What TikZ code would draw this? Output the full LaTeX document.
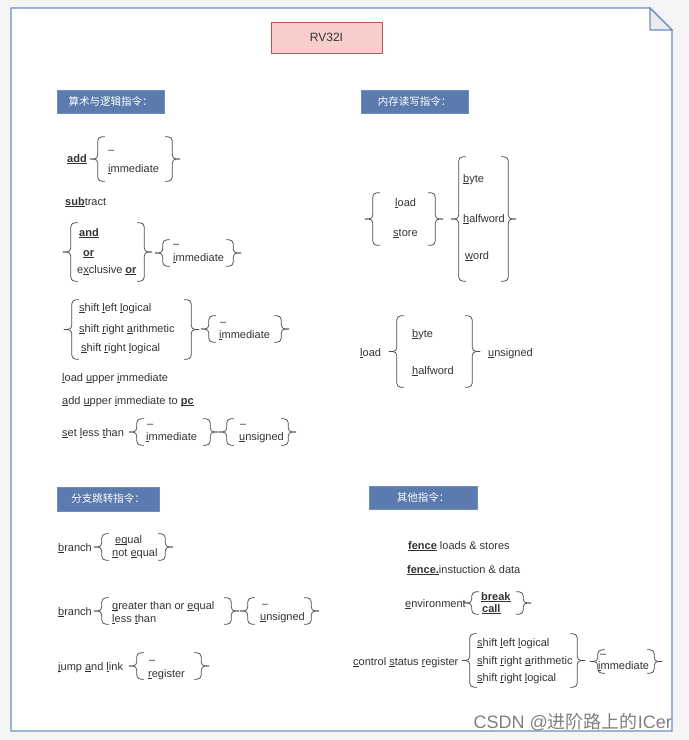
\documentclass[tikz,border=0pt]{standalone}
\usepackage{fontspec}
\setmainfont{Liberation Sans}
\newfontfamily\cjk{Noto Sans CJK SC}
\usetikzlibrary{fit}

\definecolor{framec}{HTML}{6C8EBF}
\definecolor{hdrfill}{HTML}{5B7BAE}
\definecolor{titlefill}{HTML}{F8CECC}
\definecolor{titledraw}{HTML}{B85450}
\definecolor{ink}{HTML}{333333}
\definecolor{paper}{HTML}{F5F5F5}

% underlined mnemonic letters
\newcommand{\mnem}[1]{\underline{\smash{#1}}}

% braces drawn on the sides of a group node
\newcommand{\openbrk}[1]{%
  \draw[brk] ([xshift=7pt]#1.north west) -- (#1.north west) -- (#1.west) -- ([xshift=-8pt]#1.west);
  \draw[brk] ([xshift=7pt]#1.south west) -- (#1.south west) -- (#1.west) -- ([xshift=-8pt]#1.west);}
\newcommand{\closebrk}[1]{%
  \draw[brk] ([xshift=-7pt]#1.north east) -- (#1.north east) -- (#1.east) -- ([xshift=8pt]#1.east);
  \draw[brk] ([xshift=-7pt]#1.south east) -- (#1.south east) -- (#1.east) -- ([xshift=8pt]#1.east);}

\begin{document}
\begin{tikzpicture}[
    x=1pt, y=-1pt,
    txt/.style={anchor=base west, inner sep=0pt, text=ink, font=\fontsize{11}{13}\selectfont},
    grp/.style={inner sep=0pt, draw=none},
    brk/.style={draw=black!70, line width=0.75pt, rounded corners=4pt},
    hdr/.style={rectangle, fill=hdrfill, draw=framec, text=white, minimum height=23pt, font=\cjk\fontsize{10.5}{12}\selectfont},
    frame/.style={draw=framec, line width=1.2pt}
]
    \useasboundingbox (0,0) rectangle (689,740);
    \fill[paper] (0,0) rectangle (689,740);

    % Page
    \filldraw[frame, fill=white] (11,8) -- (650,8) -- (672,30) -- (672,731) -- (11,731) -- cycle;
    \filldraw[frame, fill=black!8] (650,8) -- (650,30) -- (672,30) -- cycle;

    % Title
    \node[rectangle, fill=titlefill, draw=titledraw, minimum width=111pt, minimum height=31pt, text=ink, font=\fontsize{12}{14}\selectfont] (title) at (326.5,37.5) {RV32I};

    % Headers
    \node[hdr, minimum width=107pt] (arith) at (110.5,101.5) {算术与逻辑指令：};
    \node[hdr, minimum width=107pt] (memory) at (414.5,101.5) {内存读写指令：};
    \node[hdr, minimum width=102pt, minimum height=24pt] (branch) at (108,499) {分支跳转指令：};
    \node[hdr, minimum width=108pt] (other) at (423,497.5) {其他指令：};

    % Arithmetic and logic
    \node[txt] (add) at (67,162) {\textbf{\mnem{add}}};
    \node[grp, fit={(98,137) (172,181)}] (addopt) {};
    \node[txt] (addnone) at (108,153) {–};
    \node[txt] (addimm) at (108,172) {\mnem{i}mmediate};
    \openbrk{addopt} \closebrk{addopt}

    \node[txt] (sub) at (65,205) {\textbf{\mnem{sub}}tract};

    \node[grp, fit={(71,223) (144,281)}] (logic) {};
    \node[txt] (and) at (79,236) {\textbf{\mnem{and}}};
    \node[txt] (or) at (83,256) {\textbf{\mnem{or}}};
    \node[txt] (xor) at (77,273) {e\mnem{x}clusive \textbf{\mnem{or}}};
    \openbrk{logic} \closebrk{logic}
    \node[grp, fit={(163,240) (233,266)}] (logicopt) {};
    \node[txt] (logicnone) at (173,247) {–};
    \node[txt] (logicimm) at (173,261) {\mnem{i}mmediate};
    \openbrk{logicopt} \closebrk{logicopt}

    \node[grp, fit={(72,300) (191,359)}] (shift) {};
    \node[txt] (sll) at (79,311) {\mnem{s}hift \mnem{l}eft \mnem{l}ogical};
    \node[txt] (sra) at (79,332) {\mnem{s}hift \mnem{r}ight \mnem{a}rithmetic};
    \node[txt] (srl) at (81,351) {\mnem{s}hift \mnem{r}ight \mnem{l}ogical};
    \openbrk{shift} \closebrk{shift}
    \node[grp, fit={(209,316) (281,342)}] (shiftopt) {};
    \node[txt] (shiftnone) at (220,325) {–};
    \node[txt] (shiftimm) at (219,338) {\mnem{i}mmediate};
    \openbrk{shiftopt} \closebrk{shiftopt}

    \node[txt] (lui) at (62,381) {\mnem{l}oad \mnem{u}pper \mnem{i}mmediate};
    \node[txt] (auipc) at (62,404) {\mnem{a}dd \mnem{u}pper \mnem{i}mmediate to \textbf{\mnem{pc}}};

    \node[txt] (slt) at (62,436) {\mnem{s}et \mnem{l}ess \mnem{t}han};
    \node[grp, fit={(137,419) (210,445)}] (sltopt) {};
    \node[txt] (sltnone) at (147,427) {–};
    \node[txt] (sltimm) at (146,440) {\mnem{i}mmediate};
    \openbrk{sltopt} \closebrk{sltopt}
    \node[grp, fit={(227,419) (288,445)}] (sltuopt) {};
    \node[txt] (sltunone) at (240,427) {–};
    \node[txt] (sltuns) at (239,440) {\mnem{u}nsigned};
    \openbrk{sltuopt} \closebrk{sltuopt}

    % Memory access
    \node[grp, fit={(373,193) (435,245)}] (ldst) {};
    \node[txt] (load) at (395,206) {\mnem{l}oad};
    \node[txt] (store) at (393,236) {\mnem{s}tore};
    \openbrk{ldst} \closebrk{ldst}
    \node[grp, fit={(459,157) (508,281)}] (width) {};
    \node[txt] (byte) at (463,182) {\mnem{b}yte};
    \node[txt] (half) at (463,222) {\mnem{h}alfword};
    \node[txt] (word) at (465,259) {\mnem{w}ord};
    \openbrk{width} \closebrk{width}

    \node[txt] (loadu) at (360,356) {\mnem{l}oad};
    \node[grp, fit={(397,316) (472,387)}] (uwidth) {};
    \node[txt] (ubyte) at (412,337) {\mnem{b}yte};
    \node[txt] (uhalf) at (412,374) {\mnem{h}alfword};
    \openbrk{uwidth} \closebrk{uwidth}
    \node[txt] (uns) at (488,356) {\mnem{u}nsigned};

    % Branch and jump
    \node[txt] (beq) at (58,551) {\mnem{b}ranch};
    \node[grp, fit={(102,534) (165,560)}] (eqopt) {};
    \node[txt] (equal) at (115,543) {\mnem{eq}ual};
    \node[txt] (noteq) at (112,556) {\mnem{n}ot \mnem{e}qual};
    \openbrk{eqopt} \closebrk{eqopt}

    \node[txt] (bge) at (58,615) {\mnem{b}ranch};
    \node[grp, fit={(102,598) (231,624)}] (cmpopt) {};
    \node[txt] (geq) at (112,609) {\mnem{g}reater than or \mnem{e}qual};
    \node[txt] (less) at (112,622) {\mnem{l}ess \mnem{t}han};
    \openbrk{cmpopt} \closebrk{cmpopt}
    \node[grp, fit={(248,598) (311,624)}] (cmpuopt) {};
    \node[txt] (cmpnone) at (262,607) {–};
    \node[txt] (cmpuns) at (260,620) {\mnem{u}nsigned};
    \openbrk{cmpuopt} \closebrk{cmpuopt}

    \node[txt] (jal) at (58,670) {\mnem{j}ump \mnem{a}nd \mnem{l}ink};
    \node[grp, fit={(137,653) (201,679)}] (jalopt) {};
    \node[txt] (jalnone) at (149,663) {–};
    \node[txt] (jalreg) at (148,677) {\mnem{r}egister};
    \openbrk{jalopt} \closebrk{jalopt}

    % Other
    \node[txt] (fence) at (408,549) {\textbf{\mnem{fence}} loads \& stores};
    \node[txt] (fencei) at (407,573) {\textbf{\mnem{fence.}}instuction \& data};

    \node[txt] (env) at (405,607) {\mnem{e}nvironment};
    \node[grp, fit={(472,592) (523,614)}] (envopt) {};
    \node[txt] (ebreak) at (481,600) {\textbf{\mnem{break}}};
    \node[txt] (ecall) at (482,612) {\textbf{\mnem{call}}};
    \openbrk{envopt} \closebrk{envopt}

    \node[txt] (csr) at (353,665) {\mnem{c}ontrol \mnem{s}tatus \mnem{r}egister};
    \node[grp, fit={(470,634) (577,687)}] (csropt) {};
    \node[txt] (csrsll) at (477,646) {\mnem{s}hift \mnem{l}eft \mnem{l}ogical};
    \node[txt] (csrsra) at (477,664) {\mnem{s}hift \mnem{r}ight \mnem{a}rithmetic};
    \node[txt] (csrsrl) at (477,681) {\mnem{s}hift \mnem{r}ight \mnem{l}ogical};
    \openbrk{csropt} \closebrk{csropt}
    \node[grp, fit={(598,650) (654,673)}] (csrimmopt) {};
    \node[txt] (csrnone) at (600,657) {–};
    \node[txt] (csrimm) at (598,669) {\mnem{i}mmediate};
    \openbrk{csrimmopt} \closebrk{csrimmopt}

    % Watermark
    \node[anchor=base east, inner sep=0pt, text=black!50, font=\fontsize{18}{20}\selectfont] (mark) at (672,728) {CSDN @{\cjk 进阶路上的}ICer};
\end{tikzpicture}
\end{document}
